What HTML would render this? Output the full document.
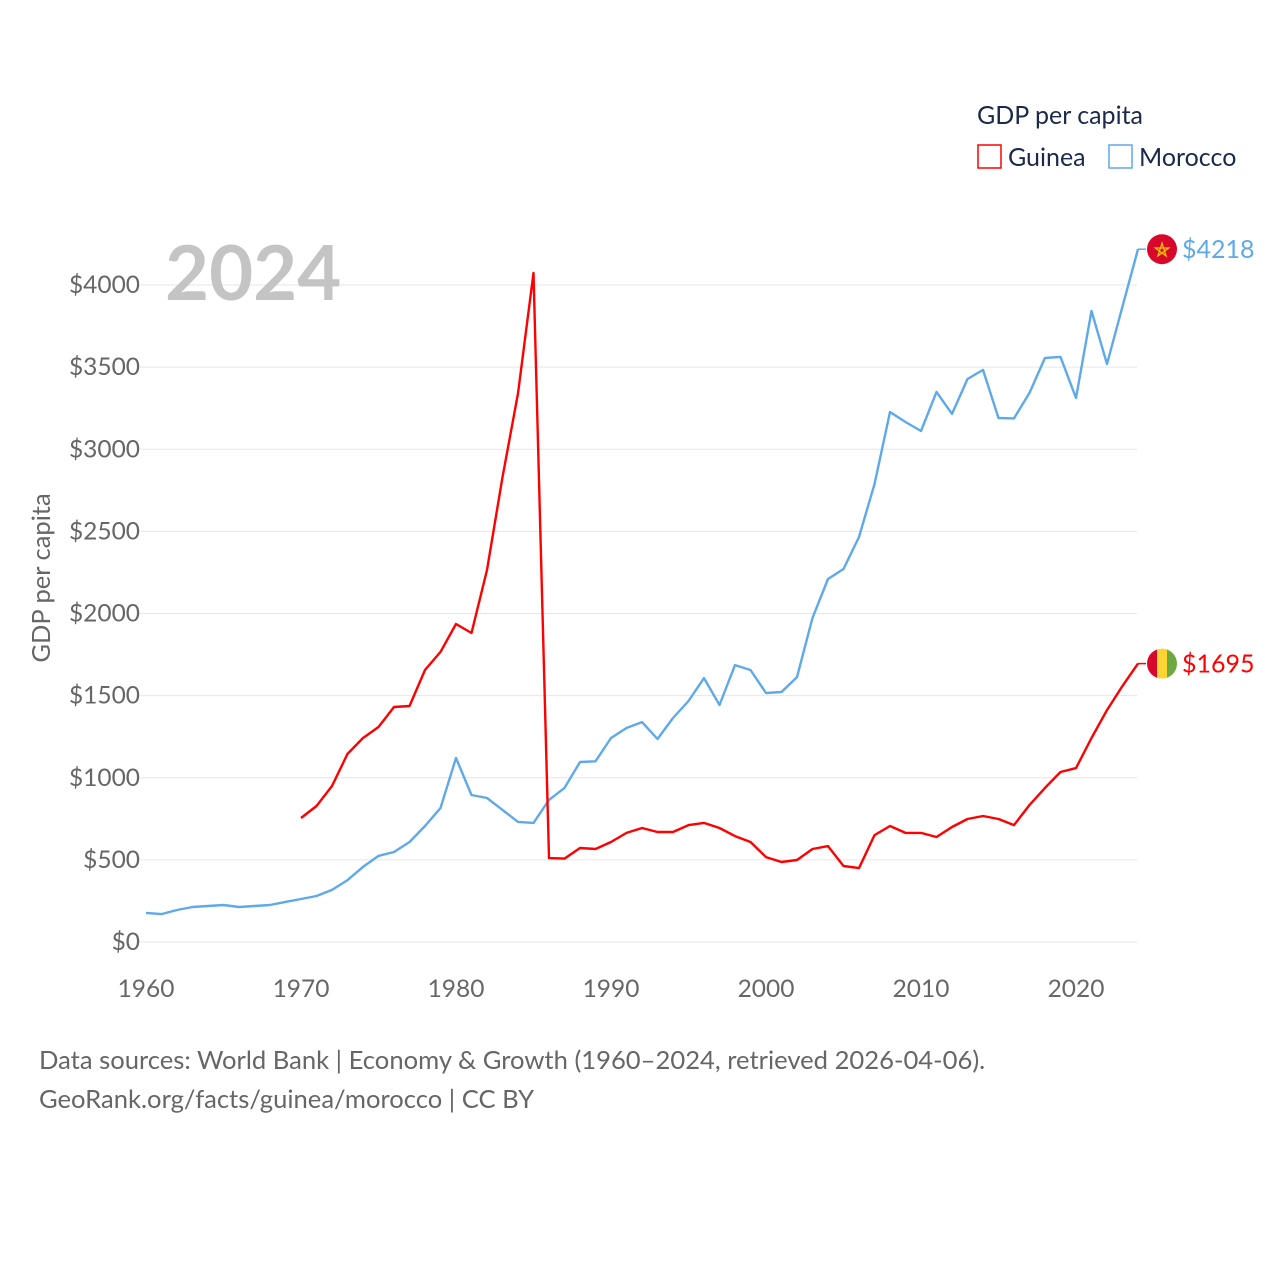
<!DOCTYPE html>
<html><head><meta charset="utf-8"><style>
body{margin:0;background:#fff;}
svg{display:block;font-family:"Lato","Liberation Sans",sans-serif;}
</style></head><body>
<svg id="chart" width="1280" height="1280" viewBox="0 0 1280 1280">
<g id="grid"></g>
<g id="yticks"></g>
<g id="xticks"></g>
<text x="50" y="578" transform="rotate(-90 50 578)" text-anchor="middle" font-size="25.5" fill="#666">GDP per capita</text>
<text x="165" y="300" font-size="76" font-weight="bold" fill="#c4c4c4">2024</text>
<g id="series"></g>
<g id="ends"></g>
<text x="977" y="124" font-size="25" fill="#1b2a4a">GDP per capita</text>
<g>
<rect x="978" y="145" width="23" height="23" fill="none" stroke="#ff0000" stroke-width="1.5"/>
<text x="1008" y="166" font-size="25" fill="#1b2a4a">Guinea</text></g>
<g>
<rect x="1109" y="145" width="23" height="23" fill="none" stroke="#5ea9ea" stroke-width="1.5"/>
<text x="1139" y="166" font-size="25" fill="#1b2a4a">Morocco</text></g>
<text x="39" y="1069" font-size="25.6" fill="#666">Data sources: World Bank | Economy &amp; Growth (1960–2024, retrieved 2026-04-06).</text>
<text x="39" y="1108" font-size="25.6" fill="#666">GeoRank.org/facts/guinea/morocco | CC BY</text>
</svg>
<script>
const yTicks=[0,500,1000,1500,2000,2500,3000,3500,4000];
const xTicks=[1960,1970,1980,1990,2000,2010,2020];
const moroccoYears=[1960,1961,1962,1963,1964,1965,1966,1967,1968,1969,1970,1971,1972,1973,1974,1975,1976,1977,1978,1979,1980,1981,1982,1983,1984,1985,1986,1987,1988,1989,1990,1991,1992,1993,1994,1995,1996,1997,1998,1999,2000,2001,2002,2003,2004,2005,2006,2007,2008,2009,2010,2011,2012,2013,2014,2015,2016,2017,2018,2019,2020,2021,2022,2023,2024];
const moroccoValues=[177,170,195,213,219,225,213,219,225,244,262,280,317,377,457,524,548,609,706,816,1120,895,877,804,731,725,865,938,1096,1100,1242,1303,1339,1236,1364,1467,1607,1443,1686,1656,1516,1522,1613,1973,2210,2271,2466,2788,3227,3166,3111,3349,3215,3428,3483,3190,3188,3343,3556,3562,3312,3842,3519,3870,4218];
const guineaYears=[1970,1971,1972,1973,1974,1975,1976,1977,1978,1979,1980,1981,1982,1983,1984,1985,1986,1987,1988,1989,1990,1991,1992,1993,1994,1995,1996,1997,1998,1999,2000,2001,2002,2003,2004,2005,2006,2007,2008,2009,2010,2011,2012,2013,2014,2015,2016,2017,2018,2019,2020,2021,2022,2023,2024];
const guineaValues=[755,828,950,1145,1242,1309,1431,1437,1656,1766,1936,1881,2265,2830,3340,4073,511,508,572,566,609,664,694,670,670,712,725,694,645,609,517,487,499,566,584,463,450,651,706,664,664,639,700,749,767,749,712,834,938,1035,1059,1242,1412,1559,1695];
const NS='http://www.w3.org/2000/svg';
const xs=y=>146+(y-1960)*15.5;
const ys=v=>942-v*0.16425;
function mk(tag,attrs,parent){const e=document.createElementNS(NS,tag);for(const k in attrs)e.setAttribute(k,attrs[k]);parent.appendChild(e);return e;}
const grid=document.getElementById('grid'),yt=document.getElementById('yticks'),xt=document.getElementById('xticks');
yTicks.forEach(v=>{
 const l=mk('line',{x1:140,x2:1137,y1:ys(v),y2:ys(v),stroke:'#e6e6e6','stroke-width':1},grid);
 
 
 const t=mk('text',{x:140,y:ys(v)+8,'text-anchor':'end','font-size':24.5,fill:'#666'},yt);
 t.textContent='$'+v;
 
 
});
xTicks.forEach(y=>{
 const t=mk('text',{x:xs(y),y:997,'text-anchor':'middle','font-size':24.5,fill:'#666'},xt);
 t.textContent=y;
 
 
});
const sg=document.getElementById('series');
function line(years,vals,color,name){
 const d=years.map((y,i)=>(i?'L':'M')+xs(y).toFixed(1)+','+ys(vals[i]).toFixed(1)).join('');
 const p=mk('path',{d:d,fill:'none',stroke:color,'stroke-width':2.4,'stroke-linejoin':'round'},sg);
 
 
}
line(moroccoYears,moroccoValues,'#5ea9ea','morocco-line');
line(guineaYears,guineaValues,'#ff0000','guinea-line');
const eg=document.getElementById('ends');
function endLabel(val,color,name,flag){
 const y=ys(val),x0=xs(2024);
 mk('line',{x1:x0,x2:x0+8,y1:y,y2:y,stroke:color,'stroke-width':1.5},eg);
 const g=mk('g',{},eg);
 
 
 flag(g,1162,y);
 const t=mk('text',{x:1182,y:y+9,'font-size':25,fill:color},eg);
 t.textContent='$'+val;
 
 
}
endLabel(moroccoValues[moroccoValues.length-1],'#5ea9ea','morocco',(g,cx,cy)=>{
 mk('circle',{cx:cx,cy:cy,r:15,fill:'#d8082c'},g);
 mk('polygon',{points:[0,1,2,3,4].map(i=>{const a=-Math.PI/2+i*4*Math.PI/5;return (cx+7*Math.cos(a)).toFixed(1)+','+(cy+1+7*Math.sin(a)).toFixed(1);}).join(' '),fill:'none',stroke:'#f5c400','stroke-width':1.3},g);
});
endLabel(guineaValues[guineaValues.length-1],'#ff0000','guinea',(g,cx,cy)=>{
 mk('clipPath',{id:'gc'},g);
 mk('circle',{cx:cx,cy:cy,r:15},g.lastChild);
 mk('rect',{x:cx-15,y:cy-15,width:10,height:30,fill:'#d8082c','clip-path':'url(#gc)'},g);
 mk('rect',{x:cx-5,y:cy-15,width:10,height:30,fill:'#fcd535','clip-path':'url(#gc)'},g);
 mk('rect',{x:cx+5,y:cy-15,width:10,height:30,fill:'#6ea840','clip-path':'url(#gc)'},g);
});
</script>
</body></html>
